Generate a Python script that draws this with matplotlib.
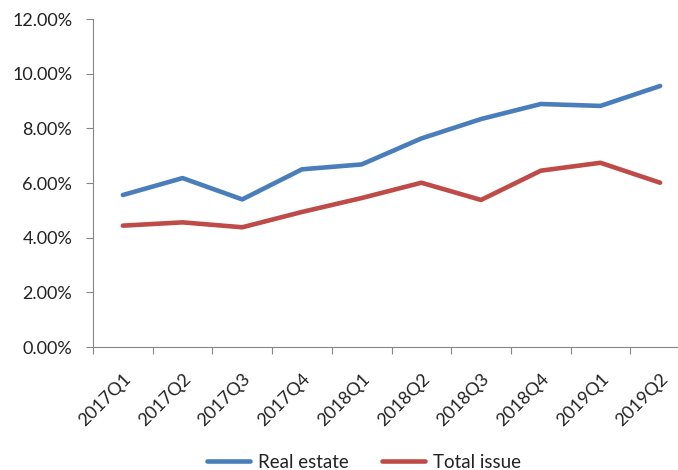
import matplotlib
matplotlib.use("Agg")
import matplotlib.pyplot as plt
from matplotlib.ticker import FuncFormatter, FixedLocator

quarters = ["2017Q1", "2017Q2", "2017Q3", "2017Q4", "2018Q1",
            "2018Q2", "2018Q3", "2018Q4", "2019Q1", "2019Q2"]
real_estate = [5.56, 6.18, 5.40, 6.50, 6.68, 7.63, 8.34, 8.89, 8.82, 9.55]
total_issue = [4.44, 4.56, 4.38, 4.94, 5.45, 6.01, 5.38, 6.45, 6.74, 6.01]

plt.rcParams['font.family'] = ['Lato', 'DejaVu Sans']

fig = plt.figure(figsize=(6.78, 4.70), dpi=100)
# axes slightly wider than the canvas: the right end of the category axis is cut off
ax = fig.add_axes([93 / 678, 1 - 347 / 470, (690 - 93) / 678, (347 - 19) / 470])

x = list(range(len(quarters)))
ax.plot(x, real_estate, color="#4A7EBB", lw=3.3, label="Real estate", solid_capstyle="round")
ax.plot(x, total_issue, color="#BE4B48", lw=3.3, label="Total issue", solid_capstyle="round")

ax.set_xlim(-0.5, len(quarters) - 0.5)
ax.set_ylim(0, 12)
ax.set_yticks(range(0, 13, 2))
ax.yaxis.set_major_formatter(FuncFormatter(lambda v, p: "%.2f%%" % v))

ax.xaxis.set_major_locator(FixedLocator([i - 0.5 for i in range(len(quarters) + 1)]))
ax.set_xticklabels([])
ax.xaxis.set_minor_locator(FixedLocator(x))
ax.set_xticklabels(quarters, minor=True, rotation=45, ha="right", rotation_mode="anchor")
ax.tick_params(axis="x", which="minor", length=0, pad=17, labelsize=13, labelcolor="#222222")
ax.tick_params(axis="x", which="major", length=5, color="#868686")
ax.tick_params(axis="y", length=5, color="#868686", labelsize=13, pad=10, labelcolor="#222222")

for s in ["top", "right"]:
    ax.spines[s].set_visible(False)
for s in ["left", "bottom"]:
    ax.spines[s].set_color("#868686")

fig.legend(loc="center", bbox_to_anchor=(364 / 678, 1 - 462 / 470), ncol=2,
           frameon=False, fontsize=13.5, handlelength=2.3, columnspacing=1.8,
           handletextpad=0.4, labelcolor="#222222")

fig.savefig("out.png", dpi=100)
